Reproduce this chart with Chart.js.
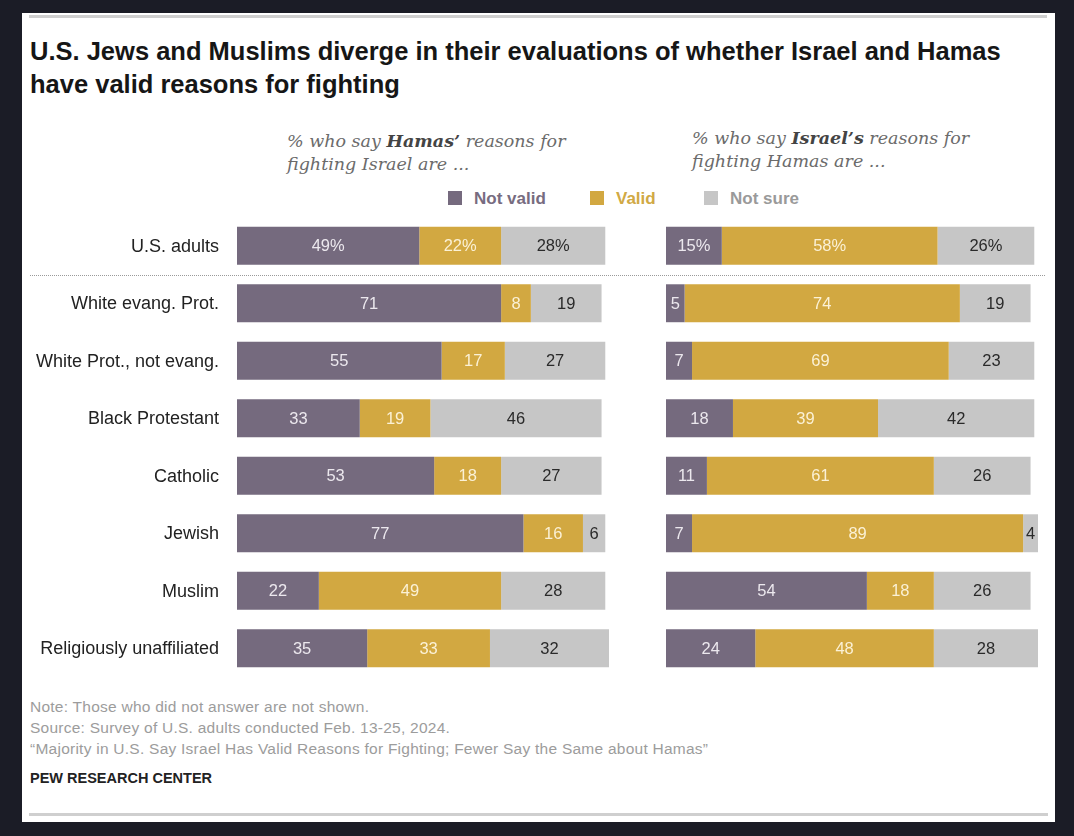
<!DOCTYPE html>
<html>
<head>
<meta charset="utf-8">
<script src="https://cdn.jsdelivr.net/npm/chart.js@4.4.1/dist/chart.umd.min.js"></script>
<style>
  html, body { margin: 0; padding: 0; }
  body { width: 1074px; height: 836px; background: #1b1c26; position: relative; overflow: hidden; font-family: "Liberation Sans", Arial, sans-serif; }
  #panel { position: absolute; left: 22px; top: 13px; width: 1033px; height: 809px; background: #fff; }
  .abs { position: absolute; white-space: nowrap; }
  .rule { position: absolute; height: 3px; background: #cfcfcf; }
  #title { left: 30px; top: 35px; font-size: 25.5px; font-weight: bold; color: #161616; line-height: 33px; }
  .sub { font-family: "DejaVu Serif", Georgia, serif; font-style: italic; font-size: 17.5px; color: #6b6b6b; line-height: 23px; }
  .sub b { color: #444; }
  .leg { top: 189px; font-size: 17px; font-weight: bold; line-height: 19px; }
  .sw { display: inline-block; width: 14px; height: 14px; vertical-align: -1px; margin-right: 12px; }
  #sep { position: absolute; left: 30px; top: 275px; width: 1015px; border-top: 1px dotted #9a9a9a; }
  .foot { left: 30px; font-size: 15.5px; letter-spacing: 0.25px; color: #9c9c9c; line-height: 21px; }
  canvas { position: absolute; }
</style>
</head>
<body>
<div id="panel"></div>
<div class="rule" style="left:29px; top:15px; width:1018px;"></div>
<div class="rule" style="left:29px; top:813px; width:1019px;"></div>

<div id="title" class="abs">U.S. Jews and Muslims diverge in their evaluations of whether Israel and Hamas<br>have valid reasons for fighting</div>

<div class="abs sub" style="left:287px; top:130px;">% who say <b>Hamas’</b> reasons for<br>fighting Israel are ...</div>
<div class="abs sub" style="left:692px; top:127px;">% who say <b>Israel’s</b> reasons for<br>fighting Hamas are ...</div>

<div class="abs leg" style="left:448px; color:#776c80;"><span class="sw" style="background:#756a7e"></span>Not valid</div>
<div class="abs leg" style="left:590px; color:#d1a944;"><span class="sw" style="background:#d2a841"></span>Valid</div>
<div class="abs leg" style="left:704px; color:#9a9a9a;"><span class="sw" style="background:#c6c6c6"></span>Not sure</div>

<canvas id="hamasChart" width="587" height="460" style="left:22px; top:217px;"></canvas>
<canvas id="israelChart" width="372" height="460" style="left:666px; top:217px;"></canvas>
<div id="sep"></div>

<div class="abs foot" style="top:696px;">Note: Those who did not answer are not shown.</div>
<div class="abs foot" style="top:717px;">Source: Survey of U.S. adults conducted Feb. 13-25, 2024.</div>
<div class="abs foot" style="top:738px;">“Majority in U.S. Say Israel Has Valid Reasons for Fighting; Fewer Say the Same about Hamas”</div>
<div class="abs" style="left:30px; top:770px; font-size:14.5px; font-weight:bold; color:#222;">PEW RESEARCH CENTER</div>

<script>
// dados
const categories = ['U.S. adults', 'White evang. Prot.', 'White Prot., not evang.', 'Black Protestant', 'Catholic', 'Jewish', 'Muslim', 'Religiously unaffiliated'];
const seriesNames = ['Not valid', 'Valid', 'Not sure'];

const hamasNotValid = [49, 71, 55, 33, 53, 77, 22, 35];
const hamasValid    = [22,  8, 17, 19, 18, 16, 49, 33];
const hamasNotSure  = [28, 19, 27, 46, 27,  6, 28, 32];

const israelNotValid = [15,  5,  7, 18, 11,  7, 54, 24];
const israelValid    = [58, 74, 69, 39, 61, 89, 18, 48];
const israelNotSure  = [26, 19, 23, 42, 26,  4, 26, 28];

const barColors = ['#756a7e', '#d2a841', '#c6c6c6'];
const labelColors = ['#ece8ee', '#fbf1d6', '#2a2a2a'];

// escreve o valor no meio de cada segmento (a primeira linha leva %)
const barLabels = {
  id: 'barLabels',
  afterDatasetsDraw(chart) {
    const ctx = chart.ctx;
    ctx.save();
    ctx.font = '16.5px "Liberation Sans", Arial, sans-serif';
    ctx.textAlign = 'center';
    ctx.textBaseline = 'middle';
    chart.data.datasets.forEach((ds, i) => {
      const meta = chart.getDatasetMeta(i);
      ctx.fillStyle = labelColors[i];
      meta.data.forEach((bar, j) => {
        const v = ds.data[j];
        const x = (bar.x + bar.base) / 2;
        ctx.fillText(j === 0 ? v + '%' : String(v), x, bar.y + 1);
      });
    });
    // nomes das categorias à esquerda, só no gráfico do Hamas
    if (chart.options.plugins.barLabels.showCategories) {
      const y = chart.scales.y;
      ctx.font = '18px "Liberation Sans", Arial, sans-serif';
      ctx.fillStyle = '#222';
      ctx.textAlign = 'right';
      chart.data.labels.forEach((lab, j) => {
        ctx.fillText(lab, chart.chartArea.left - 18, y.getPixelForValue(j) + 1);
      });
    }
    ctx.restore();
  }
};

function makeChart(id, values, showCategories) {
  return new Chart(document.getElementById(id), {
    type: 'bar',
    data: {
      labels: categories,
      datasets: values.map((d, i) => ({
        label: seriesNames[i],
        data: d,
        backgroundColor: barColors[i],
        borderWidth: 0,
        categoryPercentage: 1,
        barPercentage: 0.66
      }))
    },
    options: {
      indexAxis: 'y',
      responsive: false,
      animation: false,
      layout: { padding: { left: showCategories ? 215 : 0, right: 0, top: 0, bottom: 0 } },
      plugins: {
        legend: { display: false },
        tooltip: { enabled: false },
        barLabels: { showCategories: showCategories }
      },
      scales: {
        x: { stacked: true, min: 0, max: 100, display: false },
        y: { stacked: true, display: false }
      }
    },
    plugins: [barLabels]
  });
}

makeChart('hamasChart', [hamasNotValid, hamasValid, hamasNotSure], true);
makeChart('israelChart', [israelNotValid, israelValid, israelNotSure], false);
</script>
</body>
</html>
